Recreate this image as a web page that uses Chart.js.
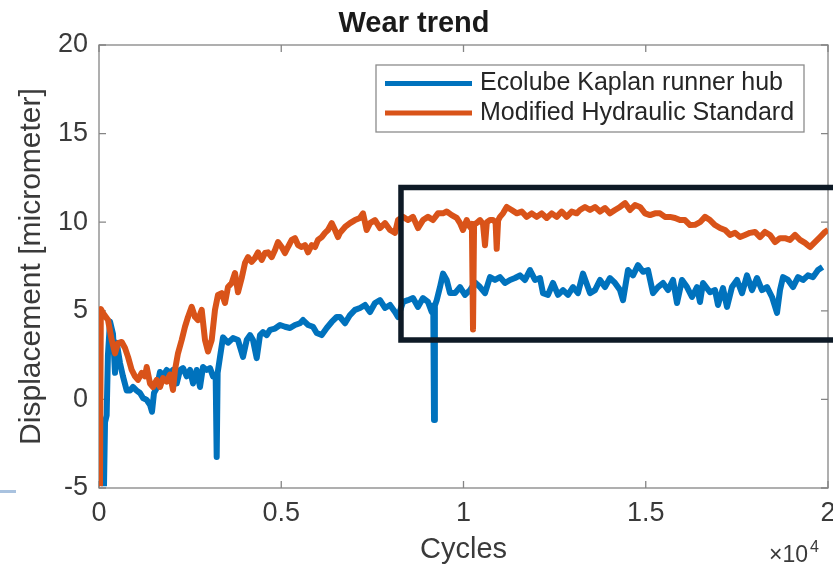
<!DOCTYPE html>
<html>
<head>
<meta charset="utf-8">
<title>Wear trend</title>
<script src="https://cdn.jsdelivr.net/npm/chart.js@4.4.1/dist/chart.umd.min.js"></script>
<style>
  body { margin: 0; background: #fff; }
  #wrap { position: relative; width: 833px; height: 568px; }
  #mark { position: absolute; left: 0; top: 490px; width: 16px; height: 3px; background: #a9c2df; }
</style>
</head>
<body>
<div id="wrap">
  <canvas id="wearChart" width="833" height="568"></canvas>
  <div id="mark"></div>
</div>
<script>
// tick positions and labels
const xTicks = [0, 5000, 10000, 15000, 20000];
const xTickLabels = ['0', '0.5', '1', '1.5', '2'];
const yTicks = [-5, 0, 5, 10, 15, 20];

// Ecolube Kaplan runner hub
const ecoCycles = [
  137, 165, 210, 245, 302, 384, 439, 486, 576, 658,
  760, 850, 933, 1034, 1125, 1207, 1309, 1399, 1454, 1509,
  1583, 1674, 1756, 1857, 1948, 2030, 2132, 2222, 2305, 2406,
  2497, 2579, 2680, 2771, 2853, 2955, 3045, 3128, 3200, 3229,
  3255, 3320, 3402, 3539, 3676, 3813, 3951, 4052, 4143, 4225,
  4327, 4417, 4499, 4601, 4691, 4829, 4966, 5103, 5240, 5377,
  5514, 5597, 5734, 5871, 5973, 6110, 6247, 6384, 6521, 6612,
  6749, 6886, 7023, 7161, 7298, 7435, 7572, 7709, 7846, 7984,
  8121, 8203, 8340, 8477, 8614, 8752, 8889, 9026, 9128, 9170,
  9191, 9215, 9265, 9355, 9438, 9539, 9630, 9767, 9904, 10041,
  10178, 10316, 10453, 10590, 10727, 10864, 11001, 11139, 11276, 11413,
  11550, 11687, 11824, 11962, 12099, 12181, 12318, 12455, 12593, 12730,
  12867, 13004, 13141, 13278, 13471, 13608, 13745, 13882, 14019, 14156,
  14294, 14376, 14513, 14650, 14787, 14925, 15062, 15199, 15336, 15473,
  15611, 15748, 15857, 15995, 16132, 16269, 16406, 16488, 16571, 16763,
  16900, 16982, 17119, 17229, 17366, 17504, 17641, 17778, 17915, 18052,
  18189, 18327, 18464, 18601, 18683, 18766, 18903, 19040, 19177, 19314,
  19451, 19589, 19726, 19850
];
const ecoValues = [
  -4.9, -1.3, -0.9, 2.5, 4.4, 3.7, 1.5, 3.2, 2.05, 1.3,
  0.5, 0.5, 0.7, 0.5, 0.36, 0.08, -0.03, -0.3, -0.7, 0.36,
  0.64, 1.55, 1.3, 1.66, 1.49, 1.66, 0.9, 1.66, 1.77, 1.3,
  1.66, 0.9, 1.66, 0.7, 1.83, 1.66, 1.77, 1.3, 1.4, -3.25,
  1.5, 2.4, 3.5, 3.2, 3.46, 3.35, 2.4, 3.35, 3.63, 3.35,
  2.33, 3.63, 3.8, 3.63, 3.92, 4.0, 4.2, 4.1, 4.03, 4.2,
  4.3, 4.48, 4.2, 4.1, 3.75, 3.63, 4.03, 4.37, 4.65, 4.65,
  4.3, 4.76, 5.05, 5.16, 5.33, 4.93, 5.44, 5.6, 5.16, 5.33,
  4.93, 4.65, 5.5, 5.6, 5.72, 5.22, 5.72, 5.5, 4.93, 5.3,
  -1.16, 5.3, 5.6, 6.34, 7.1, 6.74, 6.0, 6.0, 6.34, 5.9,
  6.17, 6.6, 6.34, 6.0, 6.9, 6.74, 6.9, 6.57, 6.74, 6.85,
  7.0, 6.74, 7.3, 6.74, 6.85, 6.0, 5.9, 6.57, 5.9, 6.17,
  5.9, 6.34, 6.0, 7.1, 6.0, 6.17, 6.74, 6.34, 6.85, 6.57,
  6.17, 5.6, 7.3, 7.0, 7.58, 7.2, 7.3, 6.0, 6.34, 6.57,
  6.17, 6.74, 5.44, 6.74, 6.34, 5.78, 6.34, 5.5, 6.57, 6.05,
  6.17, 5.33, 6.28, 5.22, 6.34, 6.74, 6.0, 7.0, 6.17, 6.85,
  6.17, 6.34, 5.78, 4.88, 6.17, 6.9, 6.74, 6.34, 6.9, 6.74,
  7.0, 6.9, 7.3, 7.47
];

// Modified Hydraulic Standard
const modCycles = [
  27, 50, 110, 247, 348, 439, 521, 623, 713, 796,
  897, 988, 1070, 1171, 1262, 1309, 1399, 1481, 1583, 1674,
  1756, 1857, 1948, 2030, 2085, 2167, 2269, 2359, 2442, 2543,
  2634, 2716, 2818, 2908, 2990, 3092, 3182, 3265, 3366, 3457,
  3539, 3641, 3731, 3813, 3915, 4006, 4088, 4189, 4280, 4362,
  4464, 4554, 4637, 4738, 4829, 4911, 5012, 5103, 5185, 5287,
  5377, 5460, 5561, 5652, 5734, 5836, 5926, 6008, 6110, 6200,
  6283, 6384, 6475, 6557, 6612, 6749, 6886, 7023, 7161, 7243,
  7344, 7435, 7572, 7709, 7846, 7984, 8121, 8203, 8340, 8477,
  8614, 8752, 8889, 9026, 9163, 9300, 9438, 9539, 9677, 9814,
  9904, 9986, 10088, 10178, 10230, 10261, 10290, 10362, 10453, 10535,
  10590, 10640, 10727, 10809, 10880, 10911, 10950, 11001, 11084, 11185,
  11322, 11459, 11597, 11734, 11871, 12008, 12145, 12283, 12420, 12557,
  12694, 12831, 12969, 13106, 13196, 13333, 13471, 13608, 13745, 13882,
  14019, 14156, 14294, 14431, 14568, 14705, 14842, 14980, 15117, 15254,
  15391, 15528, 15665, 15803, 15940, 16077, 16214, 16351, 16488, 16626,
  16763, 16900, 17037, 17174, 17311, 17449, 17586, 17723, 17860, 17997,
  18135, 18272, 18409, 18546, 18683, 18820, 18958, 19095, 19232, 19369,
  19506, 19643, 19781, 19918, 20000
];
const modValues = [
  -4.9, 5.1, 4.88, 4.48, 3.35, 2.6, 3.18, 3.24, 2.9, 2.4,
  1.66, 1.3, 1.1, 1.5, 1.3, 1.83, 0.9, 0.7, 1.1, 0.7,
  1.2, 1.0, 1.4, 0.53, 1.66, 2.6, 3.35, 4.1, 4.65, 5.22,
  4.65, 4.48, 5.05, 3.35, 2.7, 3.35, 5.05, 5.9, 6.0, 5.44,
  6.34, 6.57, 7.13, 6.05, 6.85, 7.7, 8.03, 7.76, 7.98, 8.3,
  7.87, 8.26, 8.3, 8.03, 8.43, 8.88, 8.6, 8.26, 8.6, 9.0,
  9.1, 8.71, 8.6, 8.71, 8.3, 8.71, 8.6, 9.0, 9.16, 9.4,
  9.56, 9.95, 9.56, 9.16, 9.4, 9.73, 9.95, 10.12, 10.24, 10.5,
  9.56, 9.95, 10.12, 9.67, 9.95, 9.56, 9.4, 10.12, 10.3, 10.12,
  10.3, 9.67, 10.12, 10.3, 10.12, 10.5, 10.5, 10.6, 10.4, 10.24,
  9.95, 9.56, 10.12, 9.73, 9.9, 3.95, 9.9, 9.95, 10.12, 9.9,
  8.7, 10.0, 10.12, 10.12, 10.0, 8.5, 10.1, 10.3, 10.5, 10.86,
  10.69, 10.5, 10.6, 10.3, 10.5, 10.3, 10.5, 10.24, 10.5, 10.3,
  10.6, 10.3, 10.6, 10.5, 10.69, 10.86, 10.69, 10.86, 10.6, 10.8,
  10.5, 10.69, 10.86, 11.08, 10.69, 10.97, 10.86, 10.5, 10.4, 10.5,
  10.5, 10.3, 10.3, 10.24, 10.12, 10.12, 9.84, 9.85, 10.0, 10.3,
  10.12, 9.84, 9.67, 9.56, 9.28, 9.4, 9.16, 9.28, 9.4, 9.45,
  9.16, 9.45, 9.28, 8.88, 9.1, 9.1, 9.0, 9.28, 9.0, 8.83,
  8.6, 8.88, 9.16, 9.45, 9.56
];

// highlighted region (right side runs past the figure edge)
const boxCycles = [8285, 20400, 20400, 8285, 8285];
const boxValues = [11.96, 11.96, 3.35, 3.35, 11.96];

const seriesNames = ['Ecolube Kaplan runner hub', 'Modified Hydraulic Standard'];
const seriesColors = ['#0072BD', '#D95319'];

const toPoints = (xs, ys) => xs.map((x, i) => ({ x: x, y: ys[i] }));

Chart.defaults.font.family = "'Liberation Sans', Arial, Helvetica, sans-serif";

const frame = {
  id: 'frame',
  beforeDatasetsDraw(chart) {
    const { ctx, chartArea: a, scales: { x, y } } = chart;
    ctx.save();
    ctx.strokeStyle = '#858585';
    ctx.lineWidth = 1.3;
    ctx.strokeRect(a.left, a.top, a.right - a.left, a.bottom - a.top);
    ctx.beginPath();
    xTicks.forEach(v => {
      const px = x.getPixelForValue(v);
      ctx.moveTo(px, a.bottom); ctx.lineTo(px, a.bottom - 7);
      ctx.moveTo(px, a.top); ctx.lineTo(px, a.top + 7);
    });
    yTicks.forEach(v => {
      const py = y.getPixelForValue(v);
      ctx.moveTo(a.left, py); ctx.lineTo(a.left + 7, py);
      ctx.moveTo(a.right, py); ctx.lineTo(a.right - 7, py);
    });
    ctx.stroke();
    ctx.restore();
  }
};

const boxLegend = {
  id: 'boxLegend',
  afterDatasetsDraw(chart) {
    const { ctx } = chart;
    ctx.save();
    ctx.fillStyle = '#fff';
    ctx.fillRect(376, 65, 428, 67);
    ctx.strokeStyle = '#8c8c8c';
    ctx.lineWidth = 1.3;
    ctx.strokeRect(376, 65, 428, 67);
    const rows = [83.5, 113];
    seriesNames.forEach((name, i) => {
      ctx.strokeStyle = seriesColors[i];
      ctx.lineWidth = 5;
      ctx.beginPath();
      ctx.moveTo(385, rows[i]);
      ctx.lineTo(472, rows[i]);
      ctx.stroke();
      ctx.fillStyle = '#262626';
      ctx.font = "25px 'Liberation Sans', Arial, sans-serif";
      ctx.textBaseline = 'middle';
      ctx.fillText(name, 480, rows[i]);
    });
    ctx.restore();
  }
};

const exponent = {
  id: 'exponent',
  afterDraw(chart) {
    const { ctx } = chart;
    ctx.save();
    ctx.fillStyle = '#3a3a3a';
    ctx.textBaseline = 'alphabetic';
    ctx.font = "23px 'Liberation Sans', Arial, sans-serif";
    ctx.fillText('\u00d710', 769, 562);
    ctx.font = "16px 'Liberation Sans', Arial, sans-serif";
    ctx.fillText('4', 810, 552);
    ctx.restore();
  }
};

new Chart(document.getElementById('wearChart').getContext('2d'), {
  type: 'line',
  data: {
    datasets: [{
      label: 'box',
      data: toPoints(boxCycles, boxValues),
      borderColor: '#0e1a26',
      borderWidth: 5.5,
      borderJoinStyle: 'miter',
      borderCapStyle: 'square',
      pointRadius: 0,
      clip: false,
      order: 0
    }, {
      label: seriesNames[1],
      data: toPoints(modCycles, modValues),
      borderColor: seriesColors[1],
      borderWidth: 6,
      borderJoinStyle: 'round',
      pointRadius: 0,
      order: 1
    }, {
      label: seriesNames[0],
      data: toPoints(ecoCycles, ecoValues),
      borderColor: seriesColors[0],
      borderWidth: 6,
      borderJoinStyle: 'round',
      pointRadius: 0,
      order: 2
    }]
  },
  options: {
    responsive: false,
    animation: false,
    devicePixelRatio: 1,
    layout: { padding: { left: 0, right: 5, top: 0, bottom: 0 } },
    plugins: {
      legend: { display: false },
      tooltip: { enabled: false },
      title: {
        display: true,
        text: 'Wear trend',
        color: '#1a1a1a',
        font: { size: 29, weight: 'bold' },
        padding: { top: 6.6, bottom: 3.6 }
      }
    },
    scales: {
      x: {
        type: 'linear',
        min: 0,
        max: 20000,
        grid: { display: false, drawTicks: false },
        border: { display: false },
        afterBuildTicks: s => { s.ticks = xTicks.map(v => ({ value: v })); },
        afterFit: s => { s.height = 80; s.paddingLeft = 0; s.paddingRight = 0; },
        ticks: {
          color: '#3a3a3a',
          font: { size: 27 },
          padding: 9,
          maxRotation: 0,
          autoSkip: false,
          callback: v => xTickLabels[xTicks.indexOf(v)]
        },
        title: {
          display: true,
          text: 'Cycles',
          color: '#3a3a3a',
          font: { size: 29 },
          padding: { top: 0, bottom: 0.6 }
        }
      },
      y: {
        min: -5,
        max: 20,
        grid: { display: false, drawTicks: false },
        border: { display: false },
        afterBuildTicks: s => { s.ticks = yTicks.map(v => ({ value: v })); },
        afterFit: s => { s.width = 99; s.paddingTop = 0; s.paddingBottom = 0; },
        ticks: {
          color: '#3a3a3a',
          font: { size: 27 },
          padding: 11
        },
        title: {
          display: true,
          text: 'Displacement [micrometer]',
          color: '#3a3a3a',
          font: { size: 30 },
          padding: { top: 13.5, bottom: 0 }
        }
      }
    }
  },
  plugins: [frame, boxLegend, exponent]
});
</script>
</body>
</html>
